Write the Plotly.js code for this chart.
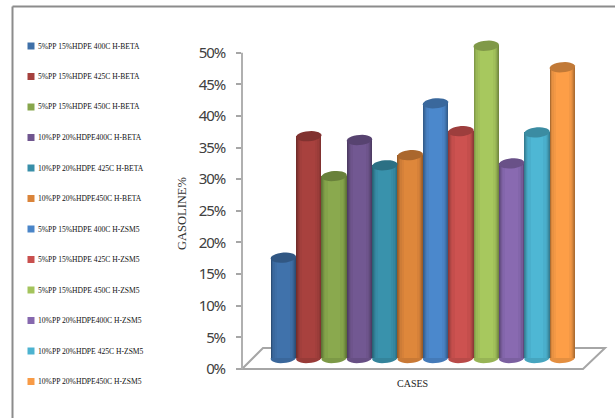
<!DOCTYPE html>
<html>
<head>
<meta charset="utf-8">
<script src="https://cdn.plot.ly/plotly-3.0.1.min.js"></script>
<style>
html,body{margin:0;padding:0;background:#fff}
/* tighter percent labels on the value axis */
#chart .ytick text{letter-spacing:-1.1px}
</style>
</head>
<body>
<div id="chart" style="width:615px;height:418px"></div>
<script>
// Gasoline yield per catalytic cracking case
const caseNames = [
  "5%PP 15%HDPE 400C H-BETA", "5%PP 15%HDPE 425C H-BETA", "5%PP 15%HDPE 450C H-BETA",
  "10%PP 20%HDPE400C H-BETA", "10%PP 20%HDPE 425C H-BETA", "10%PP 20%HDPE450C H-BETA",
  "5%PP 15%HDPE 400C H-ZSM5", "5%PP 15%HDPE 425C H-ZSM5", "5%PP 15%HDPE 450C H-ZSM5",
  "10%PP 20%HDPE400C H-ZSM5", "10%PP 20%HDPE 425C H-ZSM5", "10%PP 20%HDPE450C H-ZSM5"
];
const gasolinePct = [17.6, 36.8, 30.5, 36.2, 32.2, 33.8, 42.0, 37.6, 51.1, 32.5, 37.4, 47.7];
const caseColors = [
  "#3f70a8", "#a5403d", "#87a64c", "#70568f", "#388fa9", "#da843a",
  "#4a85c8", "#c9504e", "#a4c45c", "#8668ae", "#4cb3d0", "#f89b46"
];
const yTicks = [0, 5, 10, 15, 20, 25, 30, 35, 40, 45, 50];

// Cylinder shading: nested strips, dark at the rim and bright in the middle
const shadeWidths = [1, 0.93, 0.86, 0.78, 0.68, 0.5];
const shadeFactors = [0.70, 0.78, 0.87, 0.94, 0.98, 1.02];

const W = 615, H = 418;
const axisLeft = 242, axisRight = 583, zeroY = 369, fiftyY = 52.7, backY = 348;
const pxPerPct = (zeroY - fiftyY) / 50;
const yMax = 54;
const floorLift = 1.74;          // columns stand part way back on the floor
const capRy = 0.8, capRx = 0.5, capTilt = 0.55;
const legendX = 27.5, legendTextX = 38, legendTop = 46, legendStep = 30.5, swatch = 7;

function shade(hex, f) {
  const n = parseInt(hex.slice(1), 16);
  const c = [n >> 16, (n >> 8) & 255, n & 255].map(v => Math.min(255, Math.round(v * f)));
  return `rgb(${c[0]},${c[1]},${c[2]})`;
}

// Tilted ellipse in data units, centred on a column's axis
function ellipsePath(cx, cy) {
  const pts = [];
  for (let k = 0; k < 28; k++) {
    const t = 2 * Math.PI * k / 28;
    const dx = capRx * Math.cos(t);
    pts.push(`${k ? "L" : "M"}${(cx + dx).toFixed(3)},${(cy + capRy * Math.sin(t) + capTilt * dx * 0.5).toFixed(3)}`);
  }
  return pts.join("") + "Z";
}

const traces = [];
caseNames.forEach((name, i) => {
  shadeWidths.forEach((w, s) => {
    traces.push({
      type: "bar",
      x: [i],
      y: [gasolinePct[i] - floorLift],
      base: [floorLift],
      width: [w],
      name: name,
      showlegend: false,
      hoverinfo: s === shadeWidths.length - 1 ? "y+name" : "skip",
      marker: {color: shade(caseColors[i], shadeFactors[s]), line: {width: 0}}
    });
  });
});

const px = v => v / W, py = v => 1 - v / H;
const shapes = [
  {type: "path", xref: "paper", yref: "paper", layer: "below",
   path: `M${px(axisLeft)},${py(zeroY)}L${px(263)},${py(backY)}L${px(605)},${py(backY)}L${px(axisRight)},${py(zeroY)}Z`,
   fillcolor: "#ffffff", line: {color: "#a6a6a6", width: 2}},
  {type: "line", xref: "paper", yref: "y", layer: "below",
   x0: px(axisLeft), x1: px(axisLeft), y0: 0, y1: 50, line: {color: "#b0b0b0", width: 2}},
  {type: "line", xref: "paper", yref: "paper", x0: px(12.5), x1: 1, y0: py(6.5), y1: py(6.5), line: {color: "#8c8c8c", width: 2}},
  {type: "line", xref: "paper", yref: "paper", x0: px(12.5), x1: px(12.5), y0: py(6.5), y1: 0, line: {color: "#8c8c8c", width: 2}}
];
const annotations = [
  {text: "GASOLINE%", xref: "paper", yref: "paper", x: px(182), y: py(214), showarrow: false,
   xanchor: "center", yanchor: "middle", textangle: -90,
   font: {family: "Liberation Serif", size: 12.5, color: "#333333"}},
  {text: "CASES", xref: "paper", yref: "paper", x: px(412), y: py(383), showarrow: false,
   xanchor: "center", yanchor: "middle",
   font: {family: "Liberation Serif", size: 10, color: "#222222"}}
];
caseNames.forEach((name, i) => {
  shapes.push({type: "path", xref: "x", yref: "y", layer: "below",
    path: ellipsePath(i, floorLift), fillcolor: shade(caseColors[i], 0.92), line: {width: 0}});
  shapes.push({type: "path", xref: "x", yref: "y", layer: "above",
    path: ellipsePath(i, gasolinePct[i]), fillcolor: shade(caseColors[i], 0.78), line: {width: 0}});

  // Key on the left: one swatch and one label per case
  const rowY = legendTop + i * legendStep;
  shapes.push({type: "rect", xref: "paper", yref: "paper",
    x0: px(legendX), x1: px(legendX + swatch), y0: py(rowY - swatch / 2), y1: py(rowY + swatch / 2),
    fillcolor: caseColors[i], line: {width: 0}});
  annotations.push({text: name, xref: "paper", yref: "paper", x: px(legendTextX), y: py(rowY),
    showarrow: false, xanchor: "left", yanchor: "middle", xshift: -2,
    font: {family: "Liberation Serif", size: 7.6, color: "#111111"}});
});

const layout = {
  width: W, height: H,
  margin: {l: 0, r: 0, t: 0, b: 0},
  paper_bgcolor: "#ffffff", plot_bgcolor: "rgba(0,0,0,0)",
  barmode: "overlay", bargap: 0,
  showlegend: false,
  xaxis: {
    domain: [axisLeft / W, axisRight / W],
    range: [-0.5 - 28.7 / 25.37, 11.5 + 8 / 25.37],
    showticklabels: false, ticks: "", showgrid: false, zeroline: false, showline: false,
    fixedrange: true
  },
  yaxis: {
    domain: [1 - zeroY / H, 1 - (zeroY - yMax * pxPerPct) / H],
    range: [0, yMax],
    tickvals: yTicks, ticktext: yTicks.map(v => v + "%"),
    ticks: "outside", ticklen: 5, tickwidth: 1.5, tickcolor: "#a6a6a6",
    ticklabelstandoff: 8,
    tickfont: {family: "Noto Sans", size: 15, color: "#404040"},
    showgrid: false, zeroline: false, showline: false, fixedrange: true
  },
  annotations: annotations,
  shapes: shapes
};

Plotly.newPlot("chart", traces, layout, {displayModeBar: false, responsive: false});
</script>
</body>
</html>
